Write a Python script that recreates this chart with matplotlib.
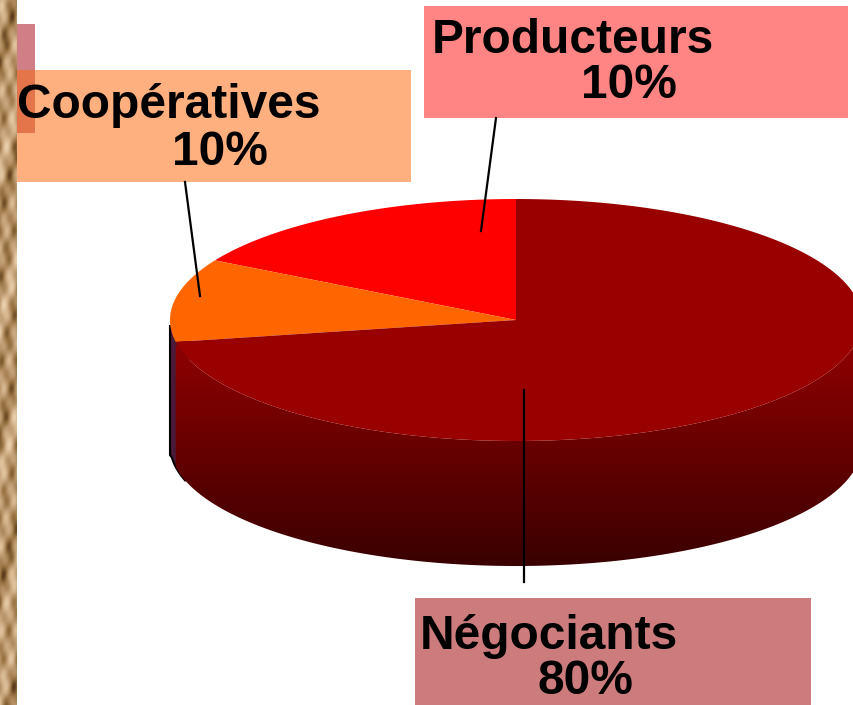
import numpy as np
import matplotlib.pyplot as plt
from matplotlib.colors import LinearSegmentedColormap
from matplotlib.patches import Polygon, Rectangle

plt.rcParams['font.family'] = ['Liberation Sans', 'DejaVu Sans']

W, H = 854, 705

# labels say 10/10/80 but the drawn slices are not that size
categories = ['Producteurs', 'Coopératives', 'Négociants']
label_values = [10, 10, 80]
drawn_shares = [16.8, 11.1, 72.1]
slice_colors = ['#ff0000', '#ff6600', '#990000']

cx, cy, rx, ry, depth = 516, 320, 346, 121, 125


def arc(t0, t1, y0=cy, n=200):
    t = np.radians(np.linspace(t0, t1, n))
    return np.column_stack([cx + rx * np.cos(t), y0 - ry * np.sin(t)])


fig = plt.figure(figsize=(W / 100, H / 100), dpi=100)
ax = fig.add_axes([0, 0, 1, 1])
ax.set_xlim(0, W)
ax.set_ylim(H, 0)
ax.axis('off')

# crumpled paper strip on the left
yy, xx = np.mgrid[0:H, 0:17]
paper = (np.sin(yy * 0.083 + xx * 0.31) + 0.8 * np.sin(yy * 0.151 - xx * 0.42 + 1.0)
         + 0.6 * np.sin(yy * 0.037 + xx * 0.18 + 2.0) + 0.35 * np.sin(yy * 0.29 + xx * 0.5))
paper_cmap = LinearSegmentedColormap.from_list('paper', ['#5a3a1c', '#94703f', '#b8946a', '#d4b48c', '#e8d0ac'])
ax.imshow(paper, extent=(0, 17, H, 0), cmap=paper_cmap, aspect='auto', zorder=1, interpolation='bilinear')

# boxes behind the pie
ax.add_patch(Rectangle((17, 24), 18, 109, color='#cf7f85', lw=0, zorder=2))
ax.add_patch(Rectangle((424, 6), 424, 112, color='#ff8484', lw=0, zorder=2))
ax.add_patch(Rectangle((415, 598), 396, 107, color='#cc7c7c', lw=0, zorder=2))
ax.add_patch(Rectangle((17, 70), 394, 112, color='#ffb07e', lw=0, zorder=3))
ax.add_patch(Rectangle((17, 70), 18, 63, color='#e4744a', lw=0, zorder=3))

# dark sliver on the left edge
bottom = arc(186, 197, cy + depth, 40)
left_edge = np.array([[170, 326], [170, 455]])
sliver = np.vstack([left_edge, bottom, [[190, 342]]])
ax.add_patch(Polygon(sliver, closed=True, facecolor='#4a1a38', edgecolor='none', zorder=4))
outline = np.vstack([left_edge, bottom])
ax.plot(outline[:, 0], outline[:, 1], color='black', lw=1.5, zorder=4)

# top face angles start at 90 deg and run counter-clockwise
edges = 90 + np.cumsum([0] + drawn_shares) * 3.6

# side wall, vertical gradient
side_cmap = LinearSegmentedColormap.from_list('side', ['#8e0000', '#3a0000'])
grad = np.linspace(0, 1, 256).reshape(-1, 1)
side_img = ax.imshow(grad, extent=(0, W, cy + ry + depth, 345), cmap=side_cmap, aspect='auto', zorder=5)
side_path = np.vstack([arc(edges[2], 360), arc(360, edges[2], cy + depth)])
clip = Polygon(side_path, closed=True, transform=ax.transData, facecolor='none', edgecolor='none')
ax.add_patch(clip)
side_img.set_clip_path(clip)

for i in range(3):
    pts = np.vstack([[[cx, cy]], arc(edges[i], edges[i + 1])])
    ax.add_patch(Polygon(pts, closed=True, facecolor=slice_colors[i], edgecolor='none', zorder=6))

ax.set_xlim(0, W)
ax.set_ylim(H, 0)

# leader lines
ax.plot([496, 481], [118, 231], color='black', lw=1.6, zorder=7)
ax.plot([185, 200], [182, 296], color='black', lw=1.6, zorder=7)
ax.plot([524, 524], [390, 582], color='black', lw=1.6, zorder=7)

# labels
fs = 34.5
label_pos = [(432, 53, 581, 98), (17, 118, 172, 165), (420, 649, 538, 694)]
for name, val, (x1, y1, x2, y2) in zip(categories, label_values, label_pos):
    ax.text(x1, y1, name, fontsize=fs, fontweight='bold', color='black', va='baseline', ha='left', zorder=8)
    ax.text(x2, y2, f'{val}%', fontsize=fs, fontweight='bold', color='black', va='baseline', ha='left', zorder=8)

fig.savefig('out.png', dpi=100, facecolor='white')
